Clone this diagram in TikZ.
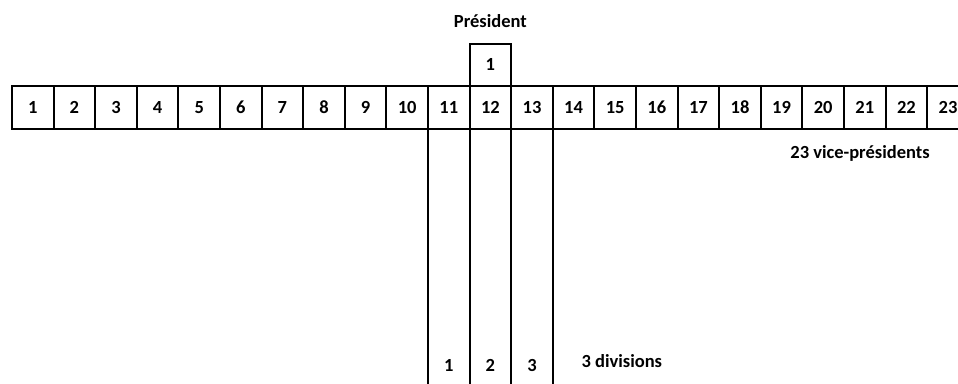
\documentclass[tikz,border=0pt]{standalone}
\usepackage{fontspec}
\setmainfont{Carlito}
\usepackage{tikz}
\usetikzlibrary{positioning}

\begin{document}
\begin{tikzpicture}[
    x=1pt, y=-1pt, % y runs downwards, as in the image
    every node/.style={font=\bfseries\fontsize{18.5}{20}\selectfont},
    cell/.style={draw, line width=2pt, minimum width=41.6pt, minimum height=42.6pt, inner sep=0pt, outer sep=0pt},
    column/.style={draw, line width=2pt}
]
\useasboundingbox (0,0) rectangle (958,383);
\clip (0,0) rectangle (958,383);

% Nodes
\foreach \i in {1,...,23}
    \node[cell] (vp\i) at ({12+41.6*(\i-0.5)}, 107.5) {\i};
\node[cell, above=0pt of vp12] (pres) {1};
\node[above=12pt of pres] (prestitle) {Président};
\node (vptitle) at (860,153) {23 vice-présidents};

% Divisions
\coordinate (floor) at (0,400);
\coordinate (lbl) at (0,365);
\draw[column] (vp11.south west) rectangle (vp11.south east |- floor);
\draw[column] (vp12.south west) rectangle (vp12.south east |- floor);
\draw[column] (vp13.south west) rectangle (vp13.south east |- floor);
\node (div1) at (vp11 |- lbl) {1};
\node (div2) at (vp12 |- lbl) {2};
\node (div3) at (vp13 |- lbl) {3};
\node[anchor=west] (divtitle) at (578,361) {3 divisions};

\end{tikzpicture}
\end{document}
